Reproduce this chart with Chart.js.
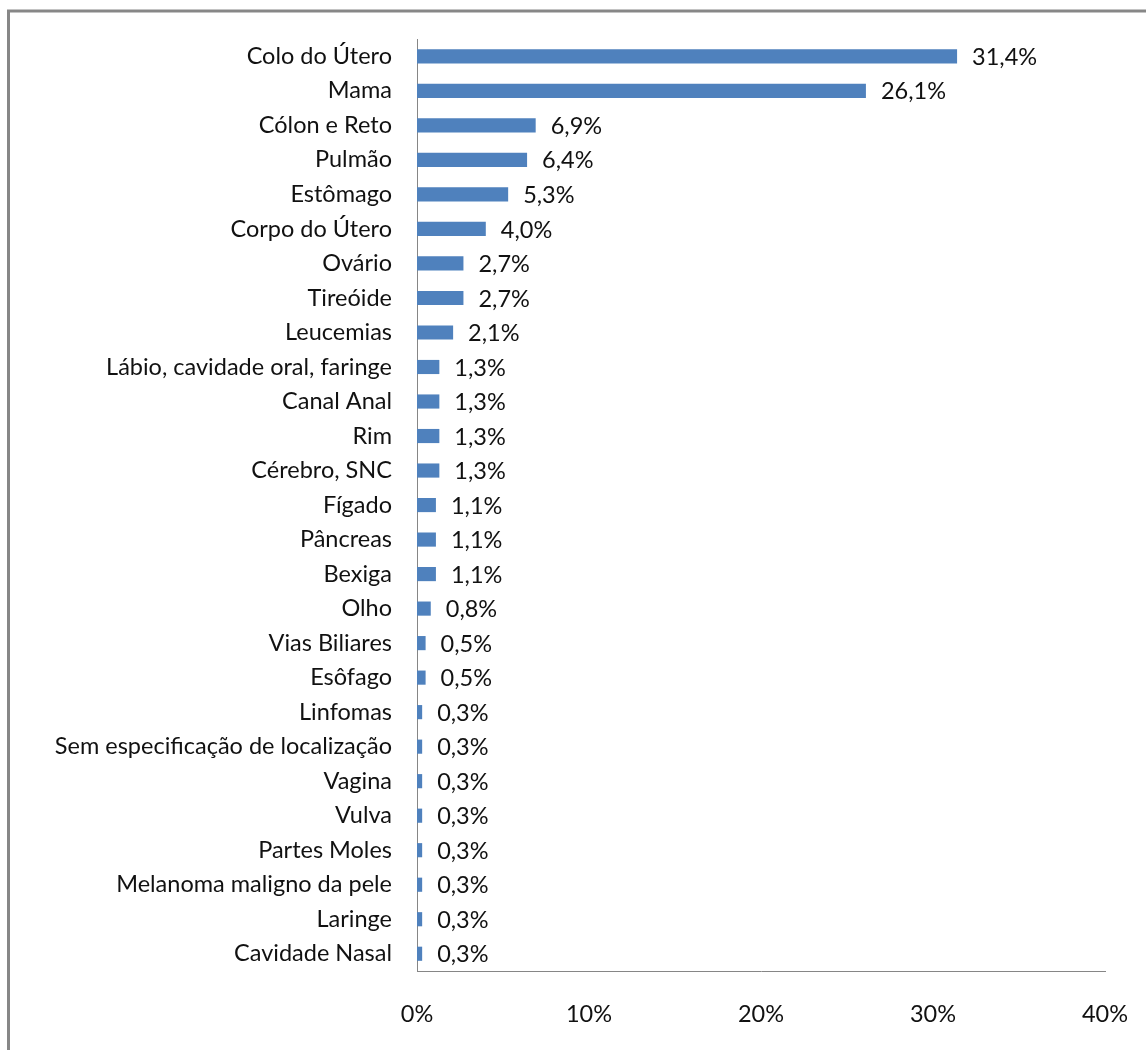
<!DOCTYPE html>
<html>
<head>
<meta charset="utf-8">
<script src="https://cdn.jsdelivr.net/npm/chart.js@4"></script>
<style>
  body { margin: 0; background: #fff; }
</style>
</head>
<body>
<canvas id="chBar" width="1146" height="1050"></canvas>
<script>
// categorias e percentuais
var categorias = ['Colo do Útero','Mama','Cólon e Reto','Pulmão','Estômago','Corpo do Útero',
  'Ovário','Tireóide','Leucemias','Lábio, cavidade oral, faringe','Canal Anal','Rim',
  'Cérebro, SNC','Fígado','Pâncreas','Bexiga','Olho','Vias Biliares','Esôfago','Linfomas',
  'Sem especificação de localização','Vagina','Vulva','Partes Moles',
  'Melanoma maligno da pele','Laringe','Cavidade Nasal'];
var percentuais = [31.4,26.1,6.9,6.4,5.3,4.0,2.7,2.7,2.1,1.3,1.3,1.3,1.3,1.1,1.1,1.1,0.8,0.5,0.5,
  0.3,0.3,0.3,0.3,0.3,0.3,0.3,0.3];
var ticksX = [0,10,20,30,40];

var fonte = 'Lato, "Open Sans", sans-serif';
var tamFonte = 23.5;
var corTexto = '#111';

// moldura cinza em volta do gráfico
var moldura = {
  id: 'moldura',
  beforeDraw: function(chart) {
    var ctx = chart.ctx;
    ctx.save();
    ctx.fillStyle = '#fff';
    ctx.fillRect(0, 0, chart.width, chart.height);
    ctx.strokeStyle = '#878787';
    ctx.lineWidth = 3;
    ctx.strokeRect(8.5, 11, 1300, 1200);
    ctx.restore();
  }
};

// rótulos de valor à direita de cada barra
var rotulos = {
  id: 'rotulos',
  afterDatasetsDraw: function(chart) {
    var ctx = chart.ctx;
    var meta = chart.getDatasetMeta(0);
    ctx.save();
    ctx.font = tamFonte + 'px ' + fonte;
    ctx.fillStyle = corTexto;
    ctx.textAlign = 'left';
    ctx.textBaseline = 'middle';
    meta.data.forEach(function(bar, i) {
      var txt = percentuais[i].toFixed(1).replace('.', ',') + '%';
      ctx.fillText(txt, bar.x + 15, bar.y + 1);
    });
    ctx.restore();
  }
};

new Chart(document.getElementById('chBar'), {
  type: 'bar',
  data: {
    labels: categorias,
    datasets: [{
      data: percentuais,
      backgroundColor: '#4F81BD',
      borderWidth: 0,
      barPercentage: 0.41,
      categoryPercentage: 1
    }]
  },
  options: {
    indexAxis: 'y',
    responsive: false,
    animation: false,
    devicePixelRatio: 1,
    layout: { padding: { top: 39, right: 41, left: 0, bottom: 0 } },
    plugins: { legend: { display: false }, tooltip: { enabled: false } },
    scales: {
      x: {
        min: 0, max: 40,
        afterBuildTicks: function(axis) {
          axis.ticks = ticksX.map(function(v) { return { value: v }; });
        },
        afterFit: function(axis) {
          axis.height = 1050 - 971;
          axis.paddingLeft = 0;
          axis.paddingRight = 0;
        },
        grid: { display: false, drawTicks: false },
        border: { display: true, color: '#868686', width: 1 },
        ticks: {
          padding: 29,
          color: corTexto,
          font: { family: fonte, size: tamFonte },
          callback: function(v) { return v + '%'; }
        }
      },
      y: {
        afterFit: function(axis) { axis.width = 417; },
        grid: { display: false, drawTicks: false },
        border: { display: true, color: '#868686', width: 1 },
        ticks: {
          padding: 25,
          color: corTexto,
          autoSkip: false,
          font: { family: fonte, size: tamFonte }
        }
      }
    }
  },
  plugins: [moldura, rotulos]
});
</script>
</body>
</html>
